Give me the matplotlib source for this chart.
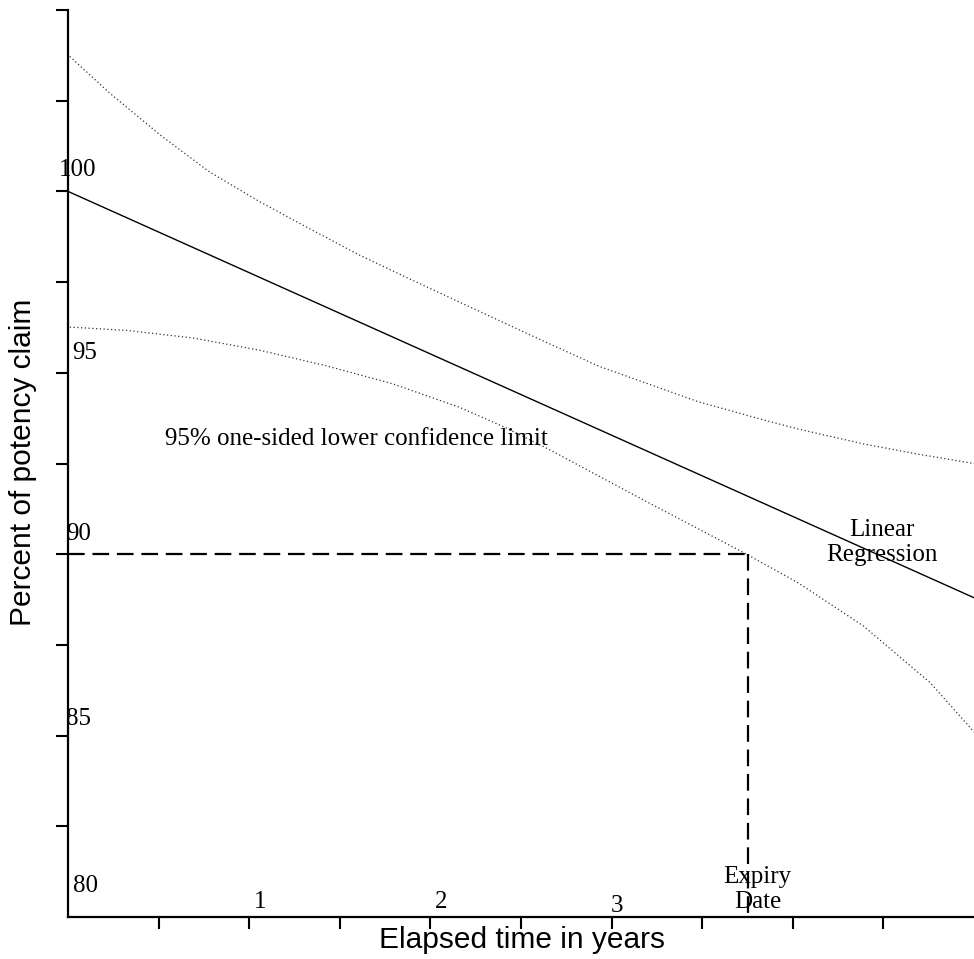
import numpy as np
import matplotlib.pyplot as plt

# Regression line (% of claim vs years)
reg_years = [0.0, 5.0]
reg_potency = [100.0, 88.8]

# 95% confidence limits
upper_years = [0.01, 0.23, 0.51, 0.78, 1.06, 1.33, 1.61, 1.88, 2.16, 2.6, 2.93,
               3.48, 3.84, 4.03, 4.39, 4.7, 5.0]
upper_potency = [103.72, 102.71, 101.55, 100.54, 99.71, 98.98, 98.24, 97.6, 96.95,
                 95.93, 95.18, 94.2, 93.7, 93.45, 93.04, 92.75, 92.5]

lower_years = [0.01, 0.32, 0.69, 1.06, 1.42, 1.79, 2.16, 2.41, 2.65, 3.2, 3.73,
               4.03, 4.39, 4.76, 5.0]
lower_potency = [96.26, 96.17, 95.96, 95.62, 95.2, 94.7, 94.05, 93.5, 92.9, 91.43,
                 90.04, 89.21, 88.02, 86.45, 85.1]

expiry = 3.75
limit = 90

# tick labels (drawn inside the axes, a bit off their ticks)
ylab_vals = [100, 95, 90, 85, 80]
ylab_x = [0.055, 0.094, 0.06, 0.06, 0.094]
ylab_y = [100.6, 95.55, 90.55, 85.45, 80.85]
xlab_vals = [1, 2, 3]
xlab_x = [1.06, 2.06, 3.03]
xlab_y = [80.4, 80.4, 80.3]

serif = 'Liberation Serif'
sans = 'Liberation Sans'

fig = plt.figure(figsize=(9.74, 9.59), dpi=100)
ax = fig.add_axes([68/974, 1-917/959, 1-68/974, (917-10)/959])

ax.plot(reg_years, reg_potency, color='black', lw=1.0)
ax.plot(upper_years, upper_potency, color='#333333', lw=0.9, ls=(0, (1, 2)))
ax.plot(lower_years, lower_potency, color='#333333', lw=0.9, ls=(0, (1, 2)))

ax.plot([0, expiry], [limit, limit], color='black', lw=1.6, ls=(0, (7.5, 3.5)))
ax.plot([expiry, expiry], [limit, 80], color='black', lw=1.6, ls=(0, (7.5, 3.5)))

ax.set_xlim(0, 5)
ax.set_ylim(80, 105)
ax.set_xticks(np.arange(0.5, 5.0, 0.5))
ax.set_yticks(np.arange(82.5, 105.1, 2.5))
ax.set_xticklabels([])
ax.set_yticklabels([])
ax.tick_params(direction='out', length=8.5, width=1.5)
ax.spines['top'].set_visible(False)
ax.spines['right'].set_visible(False)
ax.spines['left'].set_linewidth(1.6)
ax.spines['bottom'].set_linewidth(1.6)
for s in ax.spines.values():
    s.set_clip_on(False)

for v, x, y in zip(ylab_vals, ylab_x, ylab_y):
    ax.text(x, y, str(v), family=serif, fontsize=18, ha='center', va='center')
for v, x, y in zip(xlab_vals, xlab_x, xlab_y):
    ax.text(x, y, str(v), family=serif, fontsize=18, ha='center', va='center')

ax.text(0.534, 93.18, '95% one-sided lower confidence limit', family=serif,
        fontsize=18, ha='left', va='center')
ax.text(4.494, 90.33, 'Linear\nRegression', family=serif, fontsize=18,
        ha='center', va='center', linespacing=1.2)
ax.text(3.806, 80.75, 'Expiry\nDate', family=serif, fontsize=18,
        ha='center', va='center', linespacing=1.2)

fig.text(522/974, 1-940/959, 'Elapsed time in years', family=sans, fontsize=21.5,
         ha='center', va='center')
fig.text(23/974, 1-462/959, 'Percent of potency claim', family=sans, fontsize=21.5,
         ha='center', va='center', rotation=90)

fig.savefig('out.png', dpi=100)
